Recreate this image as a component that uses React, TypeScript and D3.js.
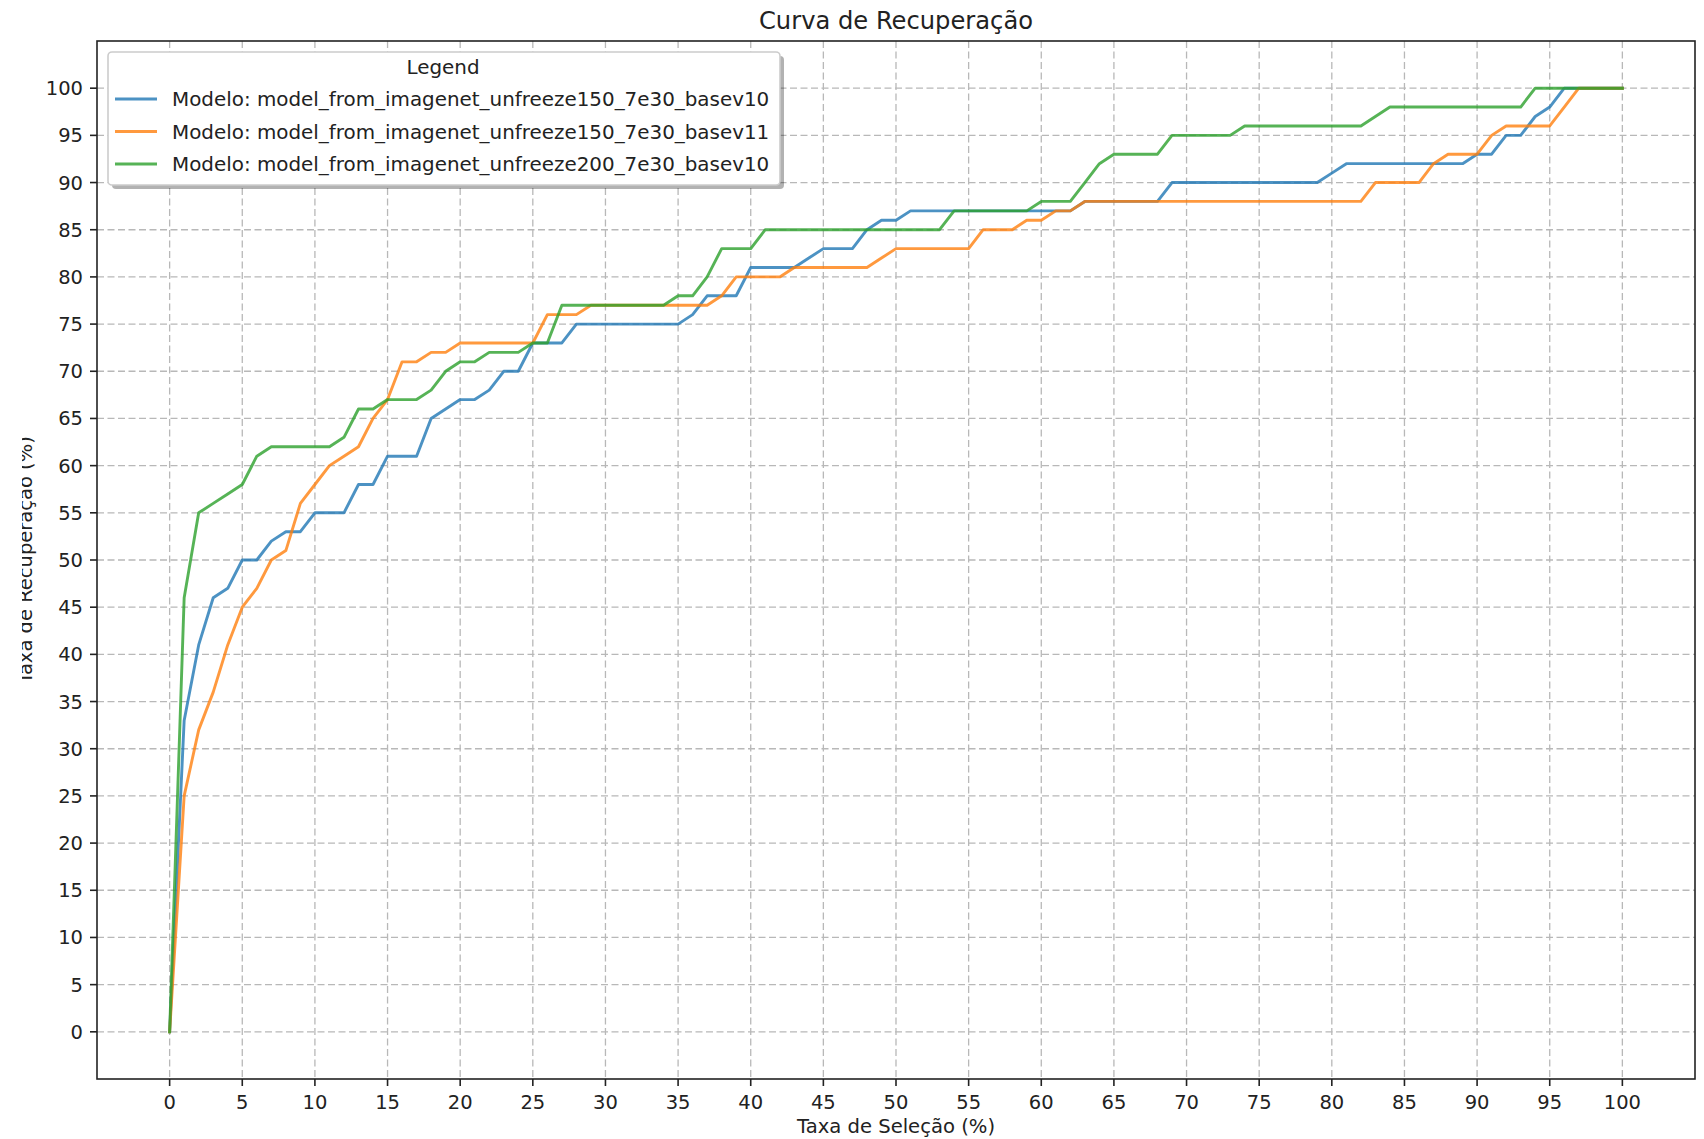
import React from "react";
import * as d3 from "d3";

const selection = [
  0, 1, 2, 3, 4, 5, 6, 7, 8, 9, 10, 11, 12, 13, 14, 15, 16, 17, 18, 19, 20,
  21, 22, 23, 24, 25, 26, 27, 28, 29, 30, 31, 32, 33, 34, 35, 36, 37, 38, 39,
  40, 41, 42, 43, 44, 45, 46, 47, 48, 49, 50, 51, 52, 53, 54, 55, 56, 57, 58,
  59, 60, 61, 62, 63, 64, 65, 66, 67, 68, 69, 70, 71, 72, 73, 74, 75, 76, 77,
  78, 79, 80, 81, 82, 83, 84, 85, 86, 87, 88, 89, 90, 91, 92, 93, 94, 95, 96,
  97, 98, 99, 100,
];

const seriesNames = [
  "Modelo: model_from_imagenet_unfreeze150_7e30_basev10",
  "Modelo: model_from_imagenet_unfreeze150_7e30_basev11",
  "Modelo: model_from_imagenet_unfreeze200_7e30_basev10",
];

const recallBasev10 = [
  0, 33, 41, 46, 47, 50, 50, 52, 53, 53,
  55, 55, 55, 58, 58, 61, 61, 61, 65, 66,
  67, 67, 68, 70, 70, 73, 73, 73, 75, 75,
  75, 75, 75, 75, 75, 75, 76, 78, 78, 78,
  81, 81, 81, 81, 82, 83, 83, 83, 85, 86,
  86, 87, 87, 87, 87, 87, 87, 87, 87, 87,
  87, 87, 87, 88, 88, 88, 88, 88, 88, 90,
  90, 90, 90, 90, 90, 90, 90, 90, 90, 90,
  91, 92, 92, 92, 92, 92, 92, 92, 92, 92,
  93, 93, 95, 95, 97, 98, 100, 100, 100, 100,
  100,
];

const recallBasev11 = [
  0, 25, 32, 36, 41, 45, 47, 50, 51, 56,
  58, 60, 61, 62, 65, 67, 71, 71, 72, 72,
  73, 73, 73, 73, 73, 73, 76, 76, 76, 77,
  77, 77, 77, 77, 77, 77, 77, 77, 78, 80,
  80, 80, 80, 81, 81, 81, 81, 81, 81, 82,
  83, 83, 83, 83, 83, 83, 85, 85, 85, 86,
  86, 87, 87, 88, 88, 88, 88, 88, 88, 88,
  88, 88, 88, 88, 88, 88, 88, 88, 88, 88,
  88, 88, 88, 90, 90, 90, 90, 92, 93, 93,
  93, 95, 96, 96, 96, 96, 98, 100, 100, 100,
  100,
];

const recallUnfreeze200 = [
  0, 46, 55, 56, 57, 58, 61, 62, 62, 62,
  62, 62, 63, 66, 66, 67, 67, 67, 68, 70,
  71, 71, 72, 72, 72, 73, 73, 77, 77, 77,
  77, 77, 77, 77, 77, 78, 78, 80, 83, 83,
  83, 85, 85, 85, 85, 85, 85, 85, 85, 85,
  85, 85, 85, 85, 87, 87, 87, 87, 87, 87,
  88, 88, 88, 90, 92, 93, 93, 93, 93, 95,
  95, 95, 95, 95, 96, 96, 96, 96, 96, 96,
  96, 96, 96, 97, 98, 98, 98, 98, 98, 98,
  98, 98, 98, 98, 100, 100, 100, 100, 100, 100,
  100,
];

const xTicks = [0, 5, 10, 15, 20, 25, 30, 35, 40, 45, 50, 55, 60, 65, 70, 75, 80, 85, 90, 95, 100];
const yTicks = [0, 5, 10, 15, 20, 25, 30, 35, 40, 45, 50, 55, 60, 65, 70, 75, 80, 85, 90, 95, 100];

const colors = ["#1f77b4", "#ff7f0e", "#2ca02c"];

const W = 1704;
const H = 1139;
const L = 97;
const R = 1695;
const T = 41;
const B = 1079;
const FONT = "'DejaVu Sans', sans-serif";

export default function App() {
  const x = d3.scaleLinear().domain([-5, 105]).range([L, R]);
  const y = d3.scaleLinear().domain([-5, 105]).range([B, T]);
  const allSeries = [recallBasev10, recallBasev11, recallUnfreeze200];
  const line = d3
    .line<number>()
    .x((_, i) => x(selection[i]))
    .y((d) => y(d));

  const legendRows = [99, 131.5, 164];

  return (
    <div>
      <style>{`body{margin:0;background:#fff}`}</style>
      <svg width={W} height={H} style={{ display: "block" }} fontFamily={FONT}>
        <defs>
          <clipPath id="ylabClip">
            <rect x={22} y={0} width={100} height={H} />
          </clipPath>
          <clipPath id="plotClip">
            <rect x={L} y={T} width={R - L} height={B - T} />
          </clipPath>
        </defs>
        <rect x={0} y={0} width={W} height={H} fill="#fff" />
        {/* grid */}
        <g stroke="#b8b8b8" strokeWidth={1.3} strokeDasharray="7,3.5">
          {xTicks.map((t) => (
            <line key={"gx" + t} x1={x(t)} x2={x(t)} y1={T} y2={B} />
          ))}
          {yTicks.map((t) => (
            <line key={"gy" + t} x1={L} x2={R} y1={y(t)} y2={y(t)} />
          ))}
        </g>
        {/* series */}
        <g clipPath="url(#plotClip)">
          {allSeries.map((s, i) => (
            <path
              key={"s" + i}
              d={line(s) || ""}
              fill="none"
              stroke={colors[i]}
              strokeOpacity={0.8}
              strokeWidth={2.9}
              strokeLinejoin="round"
              strokeLinecap="square"
            />
          ))}
        </g>
        {/* spines */}
        <rect x={L} y={T} width={R - L} height={B - T} fill="none" stroke="#222" strokeWidth={1.6} />
        {/* x ticks */}
        {xTicks.map((t) => (
          <g key={"xt" + t}>
            <line x1={x(t)} x2={x(t)} y1={B} y2={B + 7} stroke="#222" strokeWidth={1.6} />
            <text x={x(t)} y={B + 30} textAnchor="middle" fontSize={19.5} fill="#222">
              {t}
            </text>
          </g>
        ))}
        {/* y ticks */}
        {yTicks.map((t) => (
          <g key={"yt" + t}>
            <line x1={L - 7} x2={L} y1={y(t)} y2={y(t)} stroke="#222" strokeWidth={1.6} />
            <text x={L - 14} y={y(t) + 7} textAnchor="end" fontSize={19.5} fill="#222">
              {t}
            </text>
          </g>
        ))}
        {/* title */}
        <text x={(L + R) / 2} y={29} textAnchor="middle" fontSize={24.2} fill="#222">
          Curva de Recuperação
        </text>
        {/* x label */}
        <text x={(L + R) / 2} y={1133} textAnchor="middle" fontSize={19.6} fill="#222">
          Taxa de Seleção (%)
        </text>
        {/* y label */}
        <g clipPath="url(#ylabClip)">
          <text
            transform={`translate(32,${(T + B) / 2}) rotate(-90)`}
            textAnchor="middle"
            fontSize={19.5}
            fill="#222"
          >
            Taxa de Recuperação (%)
          </text>
        </g>
        {/* legend */}
        <g>
          <rect x={112} y={56} width={672} height={133} rx={4} fill="#000" fillOpacity={0.3} />
          <rect x={108} y={52} width={672} height={133} rx={4} fill="#fff" stroke="#cccccc" strokeWidth={1.6} />
          <text x={443} y={74} textAnchor="middle" fontSize={19.9} fill="#222">
            Legend
          </text>
          {seriesNames.map((n, i) => (
            <g key={"lg" + i}>
              <line
                x1={115}
                x2={157}
                y1={legendRows[i]}
                y2={legendRows[i]}
                stroke={colors[i]}
                strokeOpacity={0.8}
                strokeWidth={2.9}
              />
              <text x={172} y={legendRows[i] + 7} fontSize={19.9} fill="#222">
                {n}
              </text>
            </g>
          ))}
        </g>
      </svg>
    </div>
  );
}
